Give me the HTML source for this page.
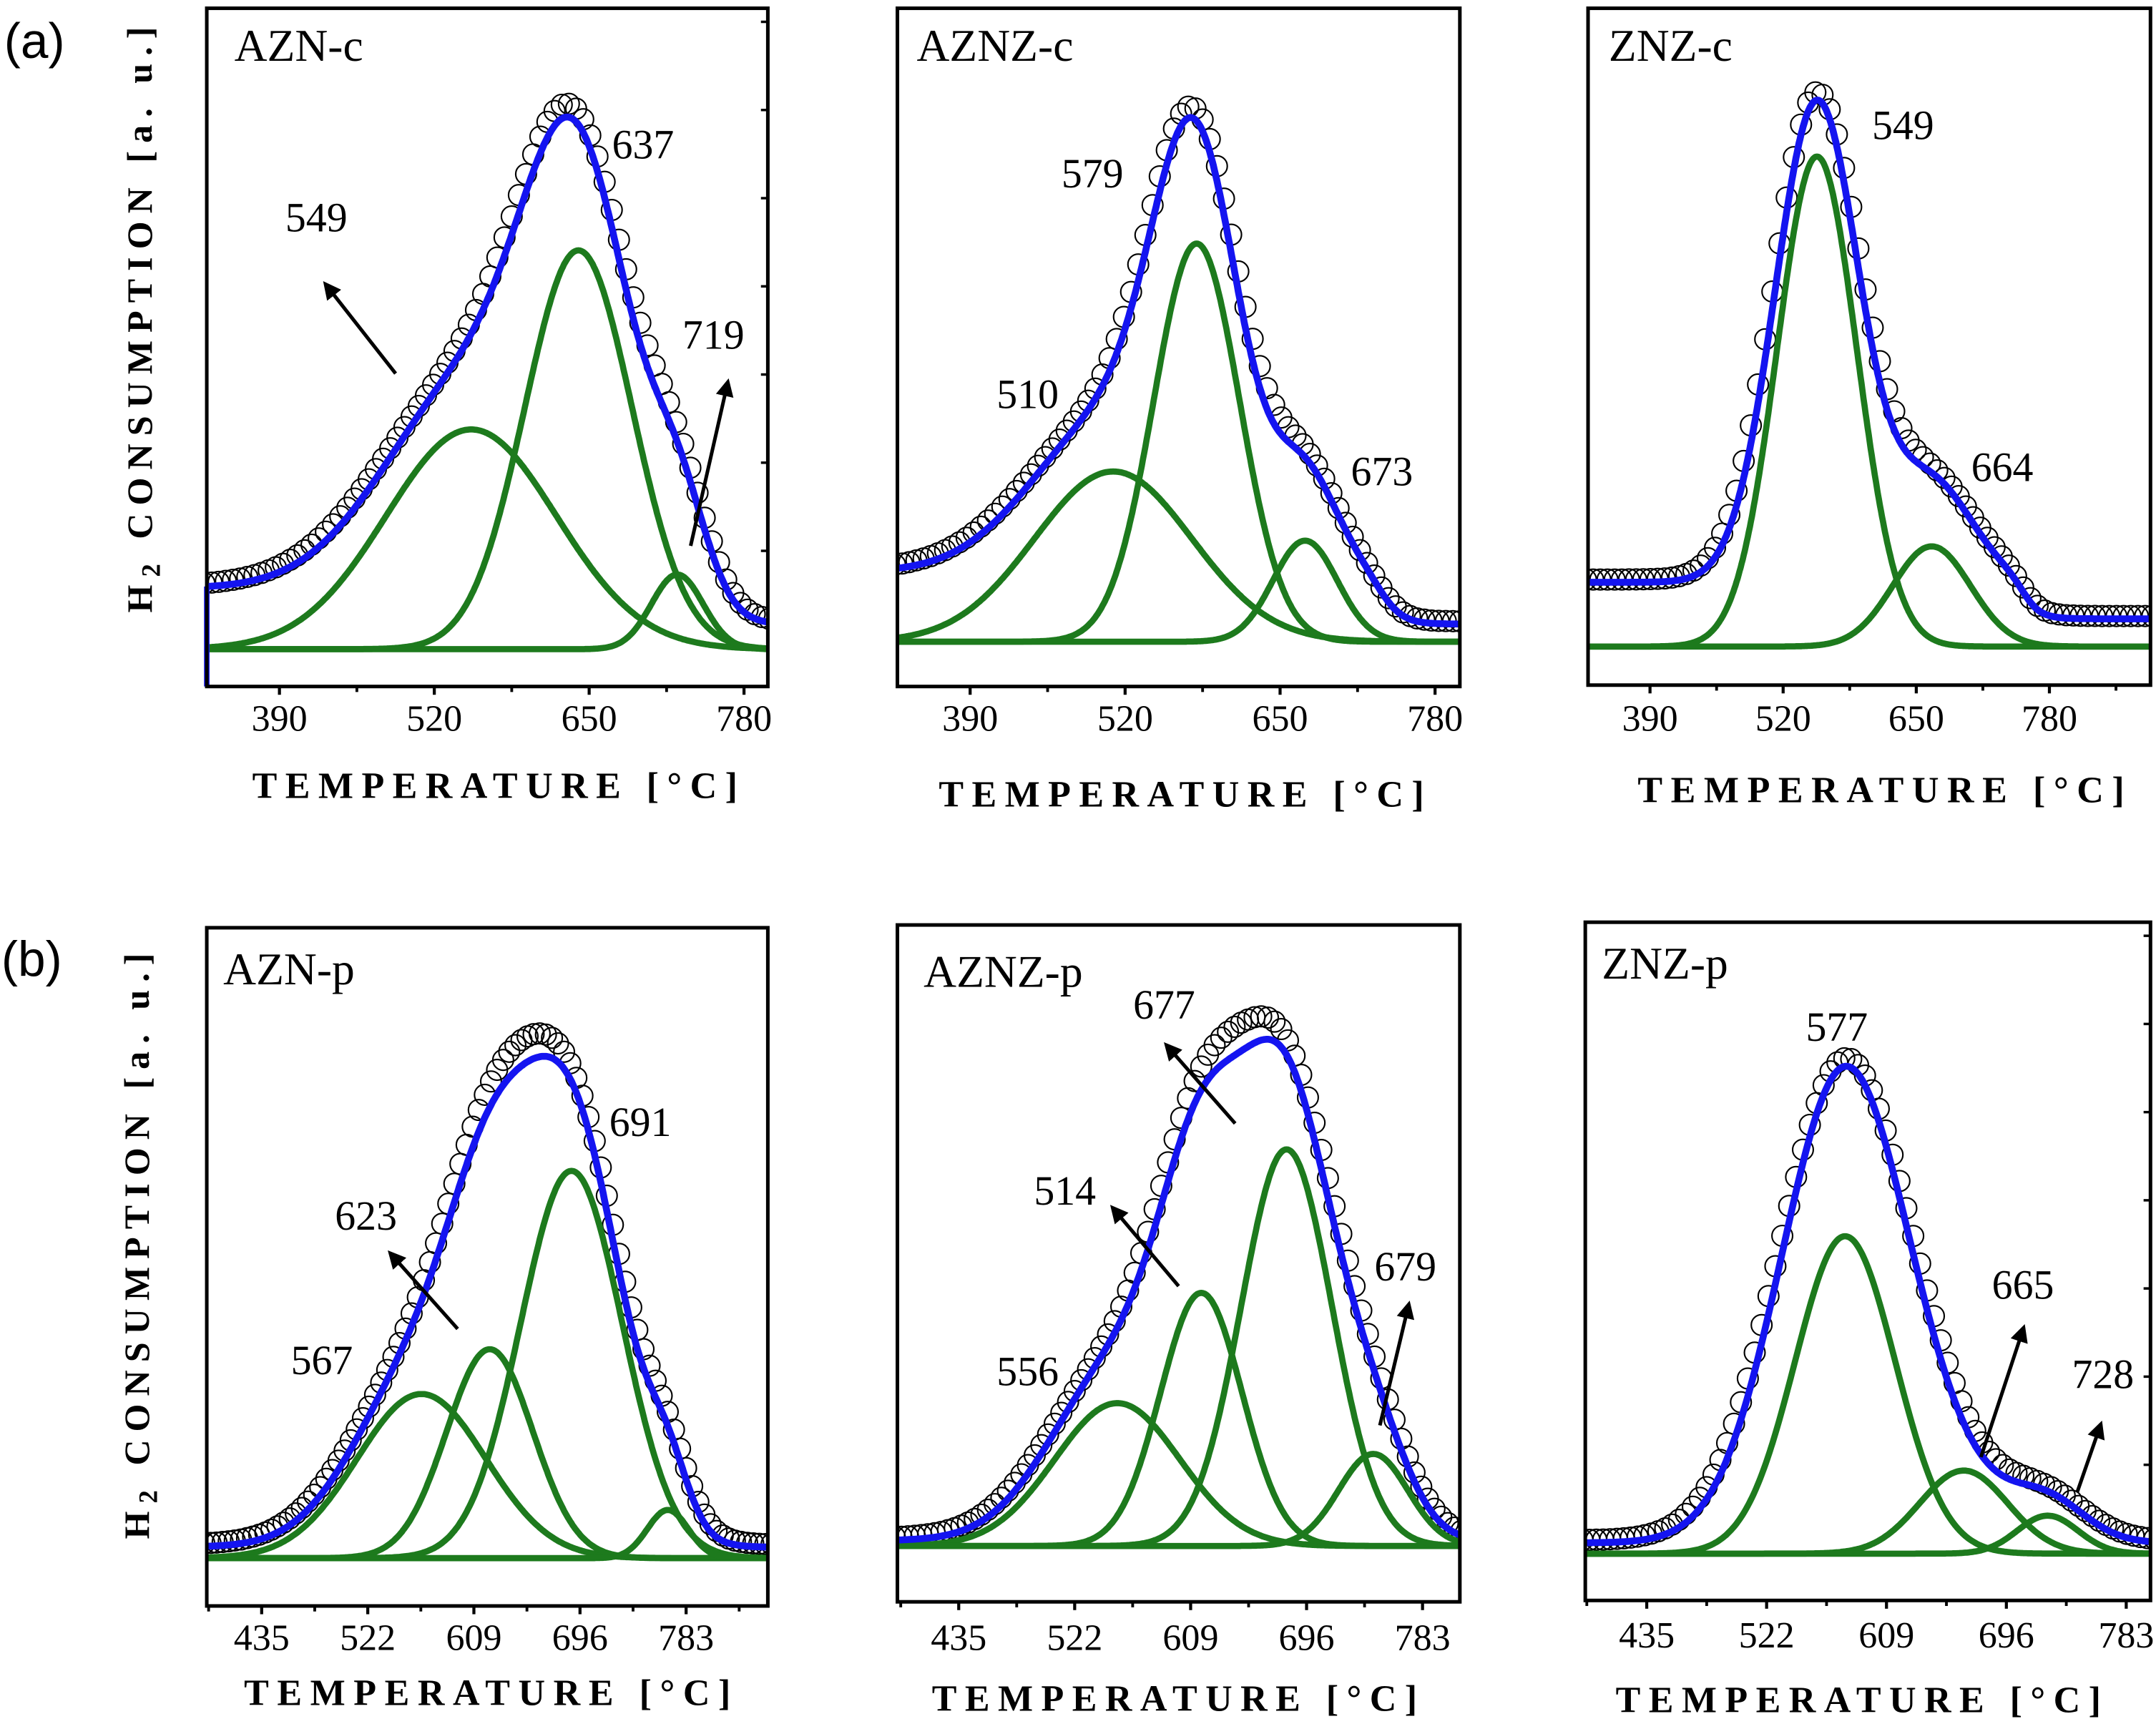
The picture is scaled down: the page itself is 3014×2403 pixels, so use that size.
<!DOCTYPE html>
<html><head><meta charset="utf-8"><title>H2-TPR profiles</title>
<style>html,body{margin:0;padding:0;background:#fff;}svg{display:block;}text{font-family:"Liberation Serif",serif;}</style></head>
<body>
<svg id="fig" xmlns="http://www.w3.org/2000/svg" width="3014" height="2403" viewBox="0 0 1564 1247" preserveAspectRatio="none">
<rect x="0" y="0" width="1564" height="1247" fill="#fff"/>
<text x="3" y="42" style="font-family:'Liberation Sans',sans-serif" font-size="36">(a)</text>
<text x="1" y="708" style="font-family:'Liberation Sans',sans-serif" font-size="36">(b)</text>
<text transform="translate(110,232) rotate(-90)" text-anchor="middle" font-weight="bold" font-size="26" textLength="425" lengthAdjust="spacing">H<tspan font-size="19" dy="6">2</tspan><tspan dy="-6"> CONSUMPTION  [a. u.]</tspan></text>
<text transform="translate(108,904) rotate(-90)" text-anchor="middle" font-weight="bold" font-size="26" textLength="425" lengthAdjust="spacing">H<tspan font-size="19" dy="6">2</tspan><tspan dy="-6"> CONSUMPTION  [a. u.]</tspan></text>
<g id="panels"></g>
</svg>
<script>
// ---------- data ----------
// AZN-c
const aznc_centers=[551,641,724];
const aznc_amps=[32.4,58.8,11.0];
const aznc_sigmas=[71.5,45,21.7];
const aznc_fitScale=[0.93,0.93,0.93];
const aznc_fit=[5.5,9.0,3.6,760,12,1.0]; // base, bgLeft, bgRight, bgCenter, bgWidth, widthScale
// AZNZ-c
const azznc_centers=[510,580,671];
const azznc_amps=[25.1,58.7,14.9];
const azznc_sigmas=[66,36,27];
const azznc_fitScale=[0.91,0.91,0.91];
const azznc_fit=[6.6,10.3,2.6,735,10,1.0];
// ZNZ-c
const znzc_centers=[553,665];
const znzc_amps=[72.4,14.8];
const znzc_sigmas=[39,38];
const znzc_fitScale=[0.98,0.98];
const znzc_fit=[5.7,9.5,4.1,755,8,1.05];
// AZN-p
const aznp_centers=[566,622,689,768];
const aznp_amps=[24.2,30.8,57.1,7.1];
const aznp_sigmas=[52.8,35.4,41.7,16.8];
const aznp_fitScale=[1.075,1.075,1.075,1.075];
const aznp_fit=[7.05,1.65,1.6,760,20,1.0];
// AZNZ-p
const azznp_centers=[554,617,681,746];
const azznp_amps=[21.1,37.4,58.6,13.6];
const azznp_sigmas=[47,30.6,34,26];
const azznp_fitScale=[1.2,1.15,1.1,1.0];
const azznp_fit=[8.25,0.8,0.8,700,20,1.04];
// ZNZ-p
const znzp_centers=[579,665,726];
const znzp_amps=[46.8,12.25,5.6];
const znzp_sigmas=[36.3,32,22];
const znzp_fitScale=[1.49,0.4,1.0];
const znzp_fit=[6.9,1.6,1.6,700,20,1.27];
// ticks
const ticksA=[390,520,650,780];
const ticksB=[435,522,609,696,783];
// peak annotations
const aznc_notes=["637","549","719"];
const azznc_notes=["579","510","673"];
const znzc_notes=["549","664"];
const aznp_notes=["691","623","567"];
const azznp_notes=["677","514","556","679"];
const znzp_notes=["577","665","728"];

// ---------- layout ----------
const panels=[
 {id:'azn-c',title:'AZN-c',c:aznc_centers,a:aznc_amps,s:aznc_sigmas,k:aznc_fitScale,f:aznc_fit,ticks:ticksA,dom:[329,800],px:[150,557],py:[6,498],step:6,
  tx:170,ty:44,notes:aznc_notes,np:[[444,115],[207,168],[495,253]],arrows:[[287,271,236,206],[501,396,528,277]],xt:[183,579,352],tl:530,leftBlue:true,rightTicks:true},
 {id:'aznz-c',title:'AZNZ-c',c:azznc_centers,a:azznc_amps,s:azznc_sigmas,k:azznc_fitScale,f:azznc_fit,ticks:ticksA,dom:[329,800.8],px:[651,1059],py:[6,498],step:6,
  tx:665,ty:44,notes:azznc_notes,np:[[770,136],[723,296],[980,352]],arrows:[],xt:[681,585,352],tl:530},
 {id:'znz-c',title:'ZNZ-c',c:znzc_centers,a:znzc_amps,s:znzc_sigmas,k:znzc_fitScale,f:znzc_fit,ticks:ticksA,dom:[329.5,878.7],px:[1152,1560],py:[6,497],step:7,
  tx:1167,ty:44,notes:znzc_notes,np:[[1358,101],[1430,349]],arrows:[],xt:[1188,582,353],tl:530},
 {id:'azn-p',title:'AZN-p',c:aznp_centers,a:aznp_amps,s:aznp_sigmas,k:aznp_fitScale,f:aznp_fit,ticks:ticksB,dom:[390,850],px:[150,557],py:[673,1165],step:5,
  tx:162,ty:714,notes:aznp_notes,np:[[442,824],[243,892],[211,997]],arrows:[[332,964,283,909]],xt:[177,1237,353],tl:1197},
 {id:'aznz-p',title:'AZNZ-p',c:azznp_centers,a:azznp_amps,s:azznp_sigmas,k:azznp_fitScale,f:azznp_fit,ticks:ticksB,dom:[389,811],px:[651,1059],py:[671,1162],step:5,
  tx:670,ty:716,notes:azznp_notes,np:[[822,739],[750,874],[723,1005],[997,929]],arrows:[[896,815,846,758],[855,933,807,876],[1001,1034,1022,946]],xt:[676,1241,352],tl:1197},
 {id:'znz-p',title:'ZNZ-p',c:znzp_centers,a:znzp_amps,s:znzp_sigmas,k:znzp_fitScale,f:znzp_fit,ticks:ticksB,dom:[390.4,800.6],px:[1150,1560],py:[669,1161],step:5,
  tx:1162,ty:710,notes:znzp_notes,np:[[1310,755],[1445,942],[1503,1007]],arrows:[[1437,1057,1468,963],[1507,1082,1524,1033]],xt:[1172,1242,352],tl:1195,rightTicks:true}
];
const NS='http://www.w3.org/2000/svg';
const root=document.getElementById('panels');
function mk(tag,attrs,parent){const e=document.createElementNS(NS,tag);for(const k in attrs)e.setAttribute(k,attrs[k]);(parent||root).appendChild(e);return e;}
function gauss(x,c,a,s){return a*Math.exp(-(x-c)*(x-c)/(2*s*s));}
const defs=mk('defs',{});
const mrk=mk('marker',{id:'ah',viewBox:'0 0 10 10',refX:'8',refY:'5',markerWidth:'5',markerHeight:'5',orient:'auto'},defs);
mk('path',{d:'M0,0 L10,5 L0,10 Z',fill:'#000'},mrk);

panels.forEach(function(p){
  const g=mk('g',{});
  
  
  const X=t=>p.px[0]+(t-p.dom[0])/(p.dom[1]-p.dom[0])*(p.px[1]-p.px[0]);
  const Y=v=>p.py[1]-v/100*(p.py[1]-p.py[0]);
  const base=p.f[0],bgL=p.f[1],bgR=p.f[2],bgC=p.f[3],bgW=p.f[4],S=p.f[5];
  const bg=t=>bgL+(bgR-bgL)/(1+Math.exp(-(t-bgC)/bgW));
  const total=(t,km,ss)=>{let v=base+bg(t);for(let i=0;i<p.c.length;i++)v+=km*p.k[i]*gauss(t,p.c[i],p.a[i],p.s[i]*ss);return v;};
  const cid='clip-'+p.id;
  const cp=mk('clipPath',{id:cid},defs);
  mk('rect',{x:p.px[0],y:p.py[0],width:p.px[1]-p.px[0],height:p.py[1]-p.py[0]},cp);
  const plot=mk('g',{'clip-path':'url(#'+cid+')'},g);
  
  
  const cg=mk('g',{fill:'none',stroke:'#000','stroke-width':'1.1'},plot);
  
  
  for(let t=p.dom[0]-2;t<=p.dom[1]+4;t+=p.step){
    const c=mk('circle',{cx:X(t).toFixed(1),cy:(Y(total(t,1.01,S*1.04))-2).toFixed(1),r:'7.5'},cg);
    
    
  }
  for(let i=0;i<p.c.length;i++){
    let d='';
    for(let t=p.dom[0];t<=p.dom[1];t+=1){d+=(d?'L':'M')+X(t).toFixed(1)+','+Y(base+gauss(t,p.c[i],p.a[i],p.s[i])).toFixed(1);}
    const pe=mk('path',{d:d,fill:'none',stroke:'#1d7a1d','stroke-width':'4.5','stroke-linejoin':'round'},plot);
    
    
  }
  let d='';
  for(let t=p.dom[0];t<=p.dom[1];t+=1){d+=(d?'L':'M')+X(t).toFixed(1)+','+Y(total(t,1,S)).toFixed(1);}
  const bl=mk('path',{d:d,fill:'none',stroke:'#1414f0','stroke-width':'5','stroke-linejoin':'round'},plot);
  
  
  if(p.leftBlue){
    const lb=mk('line',{x1:p.px[0],y1:Y(total(p.dom[0],1,S)),x2:p.px[0],y2:p.py[1],stroke:'#1414f0','stroke-width':'4'},g);
    
    
  }
  const fr=mk('rect',{x:p.px[0],y:p.py[0],width:p.px[1]-p.px[0],height:p.py[1]-p.py[0],fill:'none',stroke:'#000','stroke-width':'2.6'},g);
  
  
  const step=p.ticks[1]-p.ticks[0];
  for(let i=-1;i<p.ticks.length;i++){
    const t=p.ticks[0]+i*step;
    if(t>=p.dom[0]&&t<=p.dom[1]){
      const tk=mk('line',{x1:X(t),y1:p.py[1],x2:X(t),y2:p.py[1]+6,stroke:'#000','stroke-width':'2.2'},g);
      
      
    }
    const tm=t+step/2;
    if(tm>=p.dom[0]&&tm<=p.dom[1]){
      const tk=mk('line',{x1:X(tm),y1:p.py[1],x2:X(tm),y2:p.py[1]+4,stroke:'#000','stroke-width':'2'},g);
      
      
    }
  }
  p.ticks.forEach(function(t){
    const tl=mk('text',{x:X(t),y:p.tl,'text-anchor':'middle','font-size':'27'},g);
    tl.textContent=t;
    
    
  });
  if(p.rightTicks){
    for(let v=10;v<100;v+=13){
      const rt=mk('line',{x1:p.px[1],y1:Y(v+10),x2:p.px[1]-5,y2:Y(v+10),stroke:'#000','stroke-width':'1.8'},g);
      
      
    }
  }
  const tt=mk('text',{x:p.tx,y:p.ty,'font-size':'33'},g);
  tt.textContent=p.title;
  
  
  p.notes.forEach(function(n,i){
    const nt=mk('text',{x:p.np[i][0],y:p.np[i][1],'font-size':'30'},g);
    nt.textContent=n;
    
    
  });
  p.arrows.forEach(function(a){
    const ar=mk('line',{x1:a[0],y1:a[1],x2:a[2],y2:a[3],stroke:'#000','stroke-width':'2.6','marker-end':'url(#ah)'},g);
    
    
  });
  const xt=mk('text',{x:p.xt[0],y:p.xt[1],'font-size':'27','font-weight':'bold',textLength:p.xt[2],lengthAdjust:'spacing'},g);
  xt.textContent='TEMPERATURE [\u00B0C]';
  
  
});
</script>
</body></html>
